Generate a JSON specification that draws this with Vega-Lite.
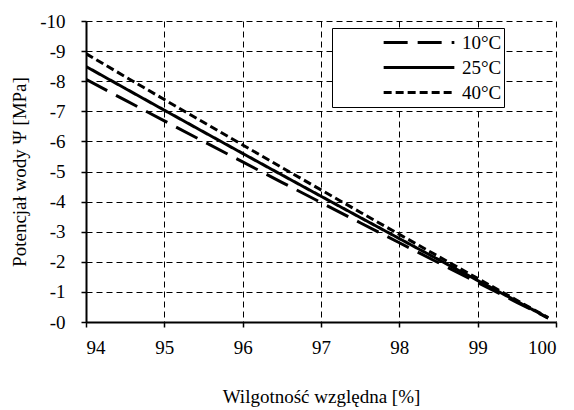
{
  "$schema": "https://vega.github.io/schema/vega-lite/v6.json",
  "autosize": {"type": "none"},
  "width": 470,
  "height": 301,
  "padding": {"left": 86, "top": 21, "right": 18, "bottom": 88},
  "background": "white",
  "config": {
    "font": "serif",
    "view": {"stroke": null},
    "style": {
      "guide-label": {"font": "serif", "fontSize": 19, "fill": "black"},
      "guide-title": {"font": "serif", "fontSize": 19, "fill": "black", "fontWeight": "normal"}
    },
    "axis": {
      "domainColor": "black",
      "domainWidth": 2,
      "tickColor": "black",
      "tickWidth": 1.5,
      "tickSize": 5,
      "grid": true,
      "gridColor": "black",
      "gridDash": [6, 4],
      "gridWidth": 1,
      "gridOpacity": 1,
      "labelColor": "black",
      "labelFontSize": 19,
      "titleColor": "black",
      "titleFontSize": 19,
      "titleFontWeight": "normal"
    },
    "legend": {
      "labelFont": "serif"
    }
  },
  "data": {
    "values": [
      {"rh": 94, "psi": 8.061, "t": "10°C"},
      {"rh": 94.5, "psi": 7.370, "t": "10°C"},
      {"rh": 95, "psi": 6.682, "t": "10°C"},
      {"rh": 95.5, "psi": 5.999, "t": "10°C"},
      {"rh": 96, "psi": 5.318, "t": "10°C"},
      {"rh": 96.5, "psi": 4.641, "t": "10°C"},
      {"rh": 97, "psi": 3.968, "t": "10°C"},
      {"rh": 97.5, "psi": 3.298, "t": "10°C"},
      {"rh": 98, "psi": 2.632, "t": "10°C"},
      {"rh": 98.5, "psi": 1.969, "t": "10°C"},
      {"rh": 99, "psi": 1.309, "t": "10°C"},
      {"rh": 99.5, "psi": 0.653, "t": "10°C"},
      {"rh": 99.9, "psi": 0.130, "t": "10°C"},
      {"rh": 94, "psi": 8.488, "t": "25°C"},
      {"rh": 94.5, "psi": 7.760, "t": "25°C"},
      {"rh": 95, "psi": 7.036, "t": "25°C"},
      {"rh": 95.5, "psi": 6.316, "t": "25°C"},
      {"rh": 96, "psi": 5.600, "t": "25°C"},
      {"rh": 96.5, "psi": 4.887, "t": "25°C"},
      {"rh": 97, "psi": 4.178, "t": "25°C"},
      {"rh": 97.5, "psi": 3.473, "t": "25°C"},
      {"rh": 98, "psi": 2.771, "t": "25°C"},
      {"rh": 98.5, "psi": 2.073, "t": "25°C"},
      {"rh": 99, "psi": 1.379, "t": "25°C"},
      {"rh": 99.5, "psi": 0.688, "t": "25°C"},
      {"rh": 99.9, "psi": 0.137, "t": "25°C"},
      {"rh": 94, "psi": 8.915, "t": "40°C"},
      {"rh": 94.5, "psi": 8.151, "t": "40°C"},
      {"rh": 95, "psi": 7.390, "t": "40°C"},
      {"rh": 95.5, "psi": 6.634, "t": "40°C"},
      {"rh": 96, "psi": 5.882, "t": "40°C"},
      {"rh": 96.5, "psi": 5.133, "t": "40°C"},
      {"rh": 97, "psi": 4.389, "t": "40°C"},
      {"rh": 97.5, "psi": 3.648, "t": "40°C"},
      {"rh": 98, "psi": 2.911, "t": "40°C"},
      {"rh": 98.5, "psi": 2.178, "t": "40°C"},
      {"rh": 99, "psi": 1.448, "t": "40°C"},
      {"rh": 99.5, "psi": 0.722, "t": "40°C"},
      {"rh": 99.9, "psi": 0.144, "t": "40°C"}
    ]
  },
  "mark": {"type": "line", "color": "black", "strokeWidth": 3, "clip": true},
  "encoding": {
    "x": {
      "field": "rh",
      "type": "quantitative",
      "scale": {"domain": [94, 100], "nice": false, "zero": false},
      "axis": {
        "grid": true,
        "values": [94, 95, 96, 97, 98, 99, 100],
        "title": "Wilgotność względna [%]",
        "labelFont": "Times New Roman",
        "titleFont": "Times New Roman",
        "labelPadding": 11,
        "titlePadding": 30
      }
    },
    "y": {
      "field": "psi",
      "type": "quantitative",
      "scale": {"domain": [0, 10], "nice": false},
      "axis": {
        "grid": true,
        "values": [0, 1, 2, 3, 4, 5, 6, 7, 8, 9, 10],
        "labelExpr": "'-' + datum.value",
        "title": "Potencjał wody Ψ [MPa]",
        "labelFont": "Times New Roman",
        "titleFont": "Times New Roman",
        "labelPadding": 16,
        "titlePadding": 10
      }
    },
    "strokeDash": {
      "field": "t",
      "type": "nominal",
      "scale": {"domain": ["10°C", "25°C", "40°C"], "range": [[24, 10], [1, 0], [8, 4]]},
      "legend": {
        "title": null,
        "orient": "none",
        "legendX": 246,
        "legendY": 7,
        "direction": "vertical",
        "strokeColor": "black",
        "fillColor": "white",
        "padding": 2,
        "symbolType": "stroke",
        "symbolSize": 5000,
        "symbolStrokeWidth": 3,
        "symbolStrokeColor": "black",
        "symbolOffset": 48,
        "clipHeight": 25,
        "rowPadding": 0,
        "labelFontSize": 19,
        "labelColor": "black",
        "labelOffset": 6,
        "labelExpr": "datum.label + '\u00a0\u00a0\u00a0\u00a0\u00a0\u00a0\u00a0\u00a0\u00a0\u00a0'"
      }
    }
  }
}
